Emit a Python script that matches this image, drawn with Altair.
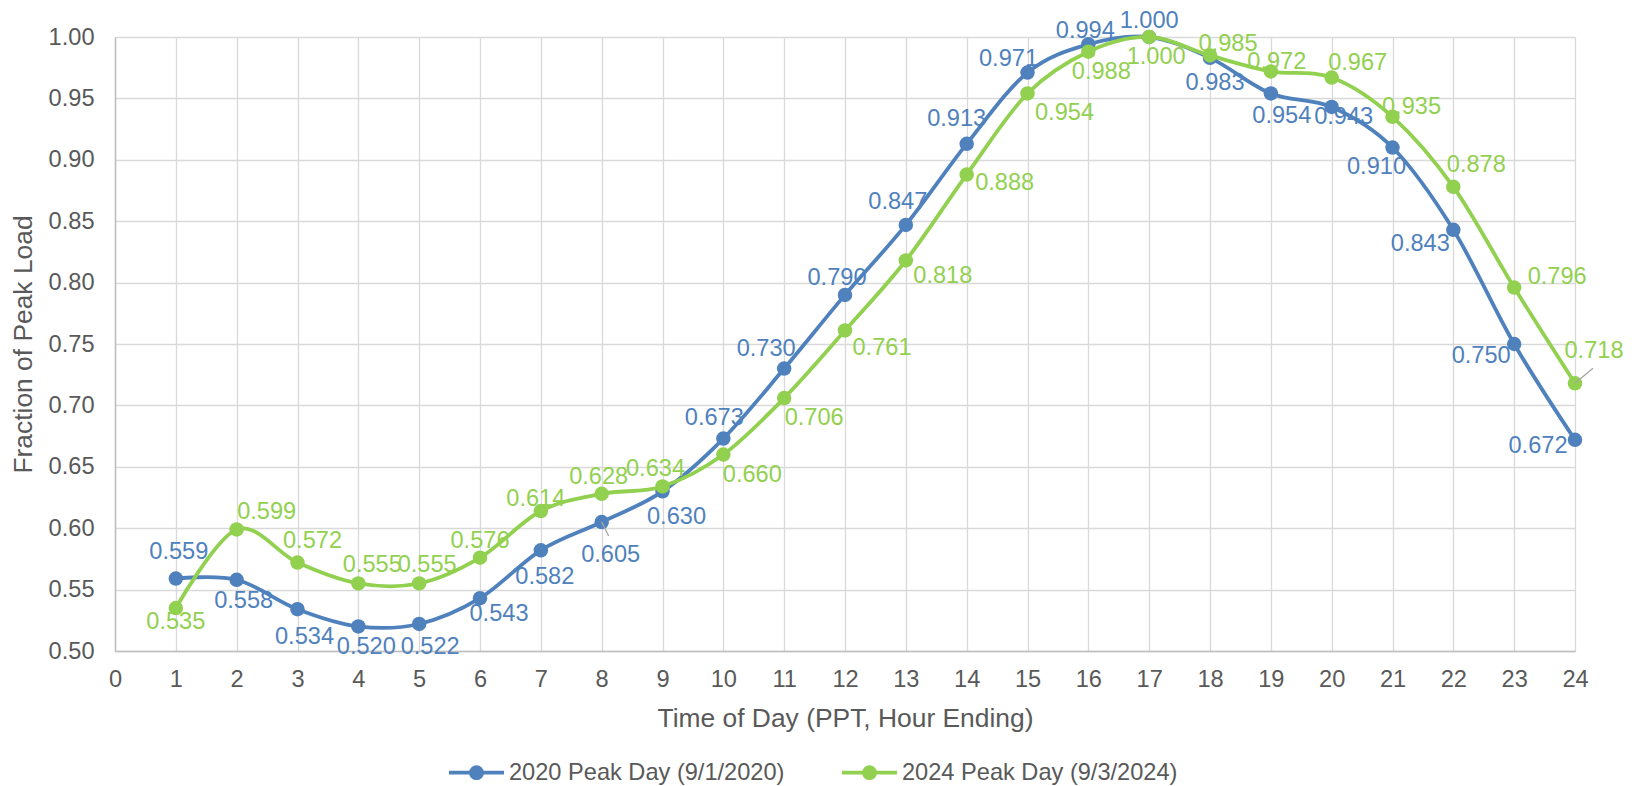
import altair as alt
import pandas as pd

# ---------------- data ----------------
hours = list(range(1, 25))
load_2020 = [0.559, 0.558, 0.534, 0.520, 0.522, 0.543, 0.582, 0.605, 0.630, 0.673,
             0.730, 0.790, 0.847, 0.913, 0.971, 0.994, 1.000, 0.983, 0.954, 0.943,
             0.910, 0.843, 0.750, 0.672]
load_2024 = [0.535, 0.599, 0.572, 0.555, 0.555, 0.576, 0.614, 0.628, 0.634, 0.660,
             0.706, 0.761, 0.818, 0.888, 0.954, 0.988, 1.000, 0.985, 0.972, 0.967,
             0.935, 0.878, 0.796, 0.718]
series_names = ["2020 Peak Day (9/1/2020)", "2024 Peak Day (9/3/2024)"]
series_colors = ["#4F81BD", "#92D050"]
x_ticks = list(range(0, 25))
y_ticks = [0.50, 0.55, 0.60, 0.65, 0.70, 0.75, 0.80, 0.85, 0.90, 0.95, 1.00]

# data-label placement (pixel offsets of each label from its point)
label_dx_2020 = [3, 7, 7, 8, 11, 19, 4, 9, 14, -9, -18, -8, -8, -10, -19, -3, 0, 5, 11, 12, -16, -33, -33, -37]
label_dy_2020 = [-27, 21, 28, 21, 23, 16, 27, 33, 26, -21, -20, -17, -23, -25, -14, -13, -16, 25, 23, 10, 19, 14, 12, 6]
label_dx_2024 = [0, 30, 15, 14, 8, 0, -5, -3, -7, 29, 30, 37, 37, 38, 37, 13, 7, 18, 6, 26, 19, 23, 43, 19]
label_dy_2024 = [14, -17, -22, -18, -18, -17, -12, -17, -17, 20, 20, 18, 16, 8, 20, 20, 20, -11, -9, -15, -10, -22, -11, -32]

FONT = "Liberation Sans"
TEXT_GRAY = "#595959"

rows = []
for name, vals, dxs, dys in [
    (series_names[0], load_2020, label_dx_2020, label_dy_2020),
    (series_names[1], load_2024, label_dx_2024, label_dy_2024),
]:
    for h, v, dx, dy in zip(hours, vals, dxs, dys):
        rows.append({"hour": h, "load": v, "series": name, "dx": dx, "dy": dy})
df = pd.DataFrame(rows)

# ---------------- encodings ----------------
x_enc = alt.X(
    "hour:Q",
    scale=alt.Scale(domain=[0, 24], nice=False, zero=False),
    axis=alt.Axis(
        values=x_ticks, format="d", title="Time of Day (PPT, Hour Ending)",
        grid=True, gridColor="#D9D9D9", gridWidth=1.3,
        domainColor="#BFBFBF", domainWidth=1.5,
        ticks=False, tickSize=0, labelPadding=16,
        labelFont=FONT, labelFontSize=23.6, labelColor=TEXT_GRAY,
        titleFont=FONT, titleFontSize=26.4, titleColor=TEXT_GRAY, titleFontWeight="normal",
        titleX=730, titleY=67, titleBaseline="middle", titleAlign="center",
        labelFlush=False, labelOverlap=False,
    ),
)
y_enc = alt.Y(
    "load:Q",
    scale=alt.Scale(domain=[0.5, 1.0], nice=False, zero=False),
    axis=alt.Axis(
        values=y_ticks, format=".2f", title="Fraction of Peak Load",
        grid=True, gridColor="#D9D9D9", gridWidth=1.3,
        domainColor="#BFBFBF", domainWidth=1.5,
        ticks=False, tickSize=0, labelPadding=21,
        labelFont=FONT, labelFontSize=23.6, labelColor=TEXT_GRAY,
        titleFont=FONT, titleFontSize=26.4, titleColor=TEXT_GRAY, titleFontWeight="normal",
        titleX=-92, titleY=307, titleBaseline="middle", titleAlign="center", titleAngle=270,
        labelFlush=False, labelOverlap=False,
    ),
)
color_scale = alt.Scale(domain=series_names, range=series_colors)

# legend symbol: a short line with a dot drawn by concentric strokes
SYMBOL = ("M-1,0L1,0"
          "M-0.2,0A0.2,0.2,0,1,1,0.2,0A0.2,0.2,0,1,1,-0.2,0"
          "M-0.1,0A0.1,0.1,0,1,1,0.1,0A0.1,0.1,0,1,1,-0.1,0"
          "M-0.02,0A0.02,0.02,0,1,1,0.02,0A0.02,0.02,0,1,1,-0.02,0")

legend = alt.Legend(
    title=None, orient="none", legendX=332, legendY=706, direction="horizontal",
    symbolType=SYMBOL, symbolSize=3025, symbolStrokeWidth=3.8,
    labelFont=FONT, labelFontSize=23.6, labelColor=TEXT_GRAY,
    labelOffset=3, columnPadding=49, padding=0, labelLimit=0,
)

base = alt.Chart(df)
layers = []
for name in series_names:
    sub = base.transform_filter(alt.datum.series == name)
    layers.append(
        sub.mark_line(interpolate="cardinal", strokeWidth=3.8).encode(
            x=x_enc, y=y_enc,
            color=alt.Color("series:N", scale=color_scale, legend=legend),
            order=alt.Order("hour:Q"),
        )
    )
    layers.append(
        sub.mark_circle(size=210, opacity=1).encode(
            x=x_enc, y=y_enc,
            fill=alt.Fill("series:N", scale=color_scale, legend=None),
        )
    )

# leader lines
lead1 = base.transform_filter((alt.datum.series == series_names[0]) & (alt.datum.hour == 8)).mark_rule(
    color="#A6A6A6", strokeWidth=1.3, x2Offset=7, y2Offset=14
).encode(x=x_enc, y=y_enc, x2="hour:Q", y2="load:Q")
lead2 = base.transform_filter((alt.datum.series == series_names[1]) & (alt.datum.hour == 24)).mark_rule(
    color="#A6A6A6", strokeWidth=1.3, x2Offset=18, y2Offset=-15
).encode(x=x_enc, y=y_enc, x2="hour:Q", y2="load:Q")

labels = base.mark_text(
    font=FONT, fontSize=23.6, align="center", baseline="middle",
    dx={"expr": "datum.dx"}, dy={"expr": "datum.dy"},
).encode(
    x=x_enc, y=y_enc,
    text=alt.Text("load:Q", format=".3f"),
    fill=alt.Fill("series:N", scale=color_scale, legend=None),
)

chart = alt.layer(*layers, lead1, lead2, labels).properties(
    width=1460, height=614,
    padding={"left": 107, "top": 29, "right": 56, "bottom": 135},
    autosize=alt.AutoSizeParams(type="none"),
    background="white",
).configure_view(stroke=None)

chart.save("out.html", embed_options={"renderer": "svg", "actions": False})
